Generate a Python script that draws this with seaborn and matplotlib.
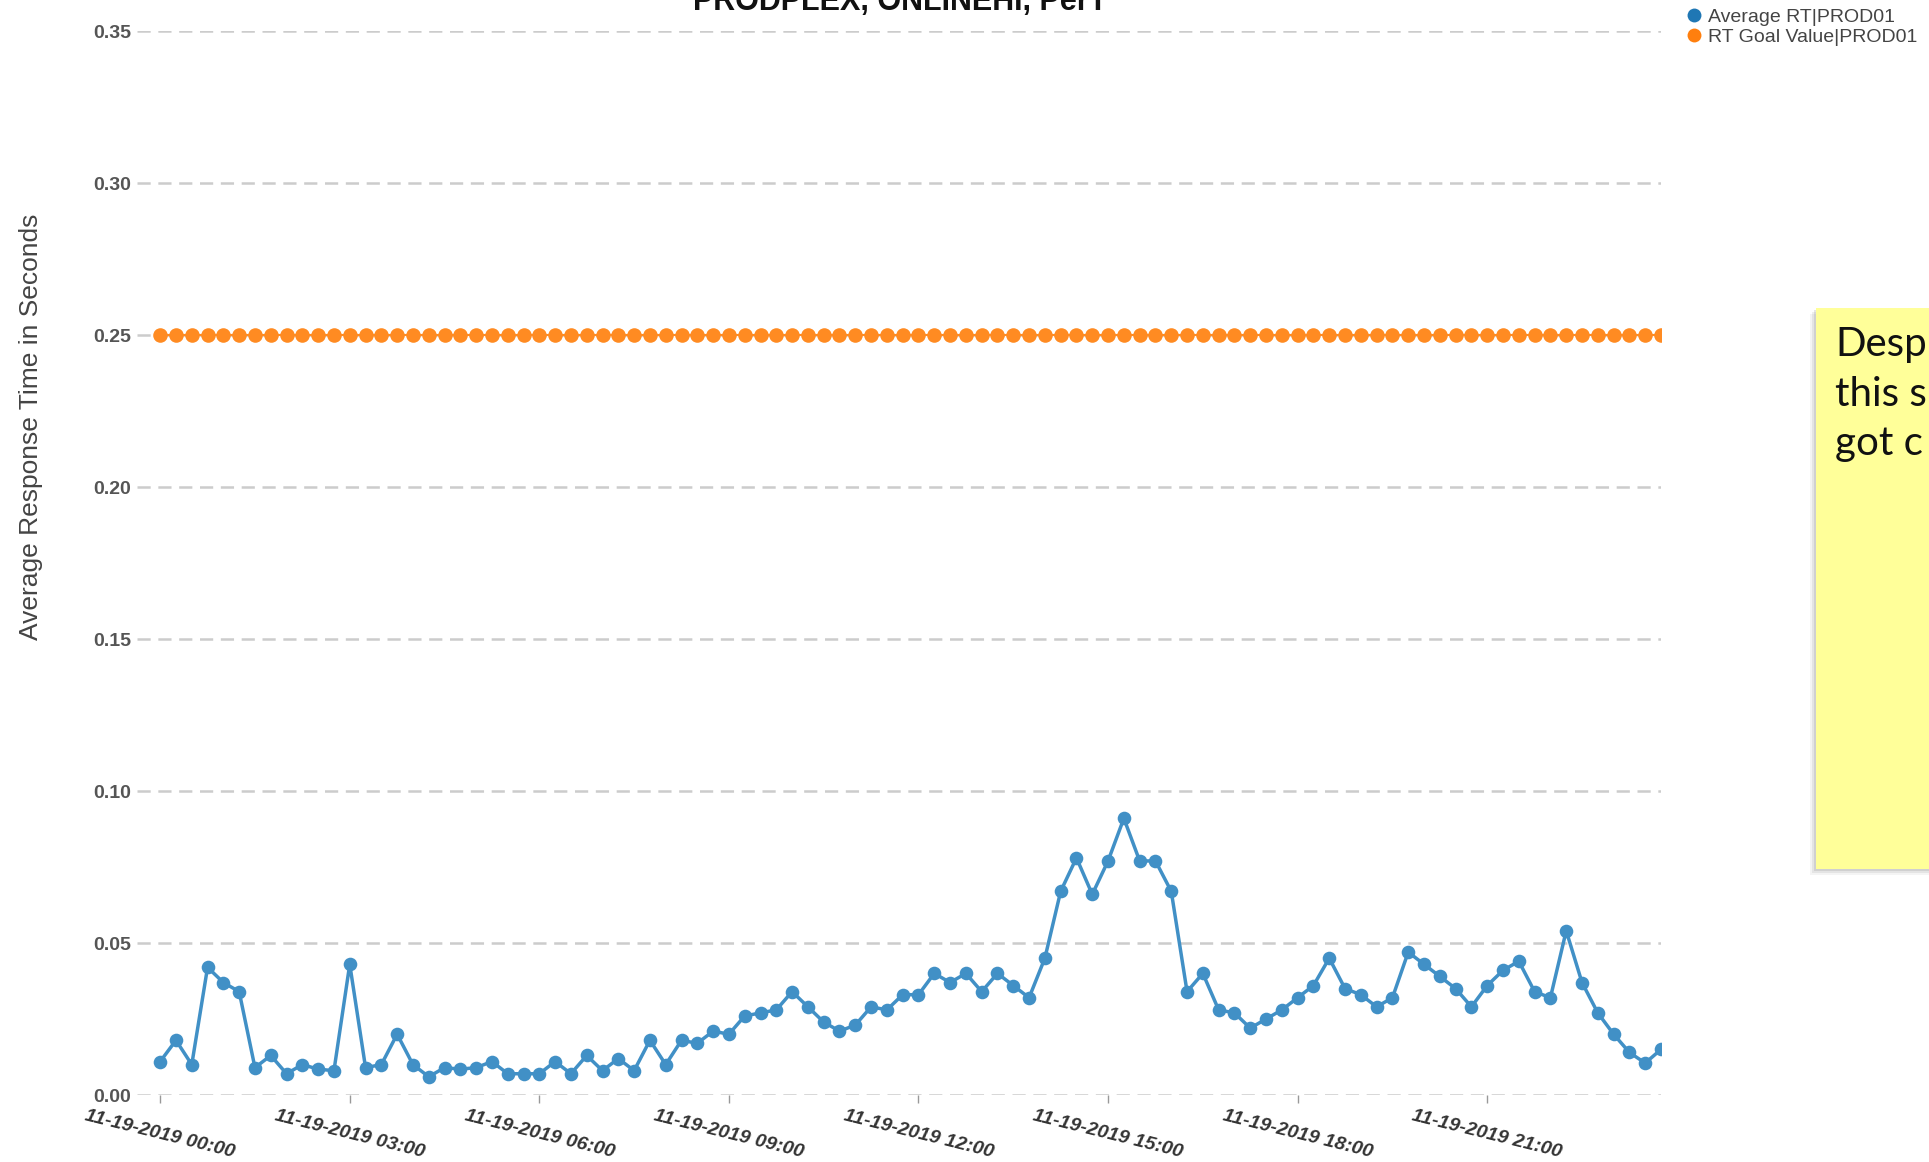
import pandas as pd
import numpy as np
import matplotlib
matplotlib.use("Agg")
import matplotlib.pyplot as plt
import seaborn as sns
from matplotlib.lines import Line2D
from matplotlib.patches import Rectangle

# 15-minute samples over one day
times = pd.date_range("2019-11-19 00:00", periods=96, freq="15min")

avg_rt = [
    0.011, 0.018, 0.010, 0.042, 0.037, 0.034, 0.009, 0.013,
    0.007, 0.010, 0.0085, 0.008, 0.043, 0.009, 0.010, 0.020,
    0.010, 0.006, 0.009, 0.0085, 0.009, 0.011, 0.007, 0.007,
    0.007, 0.011, 0.007, 0.013, 0.008, 0.012, 0.008, 0.018,
    0.010, 0.018, 0.017, 0.021, 0.020, 0.026, 0.027, 0.028,
    0.034, 0.029, 0.024, 0.021, 0.023, 0.029, 0.028, 0.033,
    0.033, 0.040, 0.037, 0.040, 0.034, 0.040, 0.036, 0.032,
    0.045, 0.067, 0.078, 0.066, 0.077, 0.091, 0.077, 0.077,
    0.067, 0.034, 0.040, 0.028, 0.027, 0.022, 0.025, 0.028,
    0.032, 0.036, 0.045, 0.035, 0.033, 0.029, 0.032, 0.047,
    0.043, 0.039, 0.035, 0.029, 0.036, 0.041, 0.044, 0.034,
    0.032, 0.054, 0.037, 0.027, 0.020, 0.014, 0.0105, 0.015,
]
goal_rt = [0.25] * 96

tick_labels = [
    "11-19-2019 00:00", "11-19-2019 03:00", "11-19-2019 06:00",
    "11-19-2019 09:00", "11-19-2019 12:00", "11-19-2019 15:00",
    "11-19-2019 18:00", "11-19-2019 21:00",
]
series_names = ["Average RT|PROD01", "RT Goal Value|PROD01"]
y_ticks = [0.0, 0.05, 0.10, 0.15, 0.20, 0.25, 0.30, 0.35]

blue = "#4190c6"
orange = "#ff8b22"

df = pd.DataFrame({"time": times, series_names[0]: avg_rt, series_names[1]: goal_rt})

sns.set_style("white")
plt.rcParams["font.family"] = ["Liberation Sans", "DejaVu Sans"]
plt.rcParams["lines.scale_dashes"] = False

W, H = 1929, 1162
fig = plt.figure(figsize=(W / 100, H / 100), dpi=100)
ax = fig.add_axes([137 / W, 1 - 1095 / H, (1661 - 137) / W, (1095 - 31) / H])

sns.lineplot(data=df, x="time", y=series_names[1], ax=ax, color=orange, lw=1.5,
             marker="o", markersize=10.5, markeredgewidth=0, legend=False)
sns.lineplot(data=df, x="time", y=series_names[0], ax=ax, color=blue, lw=2.5,
             marker="o", markersize=9.8, markeredgewidth=0, legend=False)

ax.set_xlim(times[0] - pd.Timedelta(minutes=22), times[-1])
ax.set_ylim(0, 0.35)
ax.set_yticks(y_ticks)
ax.set_yticklabels([f"{v:.2f}" for v in y_ticks])
ax.set_xticks(times[::12])
ax.set_xticklabels(tick_labels)
ax.set_xlabel("")
ax.set_ylabel("")

ax.set_axisbelow(True)
ax.grid(axis="y", color="#cccccc", lw=1.8, linestyle=(0, (9.5, 5.5)))
ax.grid(axis="x", visible=False)
for s in ax.spines.values():
    s.set_visible(False)

ax.tick_params(axis="y", length=0, pad=4, labelsize=14, labelcolor="#555555")
ax.tick_params(axis="x", length=6, width=1, color="#999999", pad=3,
               labelsize=14, labelcolor="#333333", bottom=True)
for lbl in ax.get_yticklabels():
    lbl.set_fontweight("bold")
for lbl in ax.get_xticklabels():
    lbl.set_fontweight("bold")
    lbl.set_fontstyle("italic")
    lbl.set_rotation(-14)
    lbl.set_ha("center")

# title is cut off by the top of the screenshot, as in the source image
fig.text(900 / W, 1 - 10 / H, "PRODPLEX, ONLINEHI, PerT", ha="center", va="baseline",
         fontsize=22, fontweight="bold", color="#111111")

fig.text(31 / W, 1 - 427 / H, "Average Response Time in Seconds", rotation=90,
         ha="center", va="center", fontsize=19, color="#444444")

handles = [Line2D([], [], ls="none", marker="o", markersize=10, color="#1f77b4", markeredgewidth=0),
           Line2D([], [], ls="none", marker="o", markersize=10, color="#ff7f0e", markeredgewidth=0)]
fig.legend(handles, series_names, loc="upper left", bbox_to_anchor=(1684 / W, 1 - 8 / H),
           frameon=False, fontsize=14, labelspacing=0.12, handletextpad=0.25,
           handlelength=1.0, borderpad=0, borderaxespad=0, labelcolor="#444444")

# yellow sticky note on the right
for off, a in [(6, 0.08), (4, 0.12), (2, 0.18)]:
    fig.patches.append(Rectangle(((1816 - off) / W, 1 - (869 + off) / H), 0.1, (869 - 308) / H,
                                 transform=fig.transFigure, facecolor="#777777", alpha=a,
                                 edgecolor="none", zorder=1))
fig.patches.append(Rectangle((1816 / W, 1 - 869 / H), 0.1, (869 - 308) / H,
                             transform=fig.transFigure, facecolor="#ffff99",
                             edgecolor="none", zorder=2))
fig.text(1835 / W, 1 - 326 / H, "Desp\nthis s\ngot c", ha="left", va="top",
         fontsize=29, family="Lato", color="#111111", linespacing=1.42, zorder=3)

fig.savefig("out.png", dpi=100)
